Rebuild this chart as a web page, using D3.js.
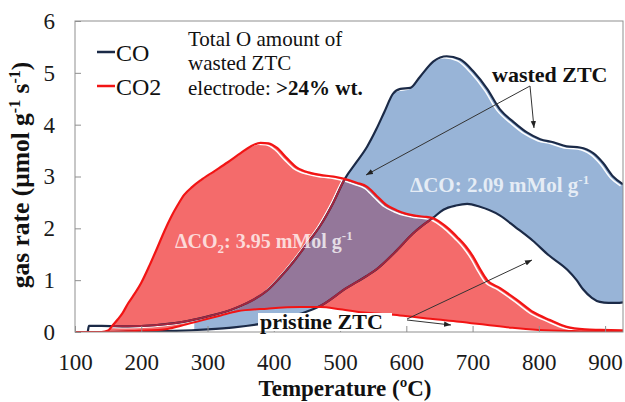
<!DOCTYPE html>
<html>
<head>
<meta charset="utf-8">
<script src="https://cdn.jsdelivr.net/npm/d3@7"></script>
<style>
  html, body { margin: 0; padding: 0; background: #fff; }
  svg { display: block; }
  text { font-family: "Liberation Serif", "Times New Roman", serif; }
</style>
</head>
<body>
<svg id="chart" width="625" height="402"></svg>
<script>
// Temperature-programmed desorption: CO and CO2 evolution rates (µmol g-1 s-1) vs temperature (°C)
// [temperature, rate] pairs for each trace

const wastedCO = [
  [100, 0], [119, 0], [121, 0.12], [140, 0.12], [180, 0.11], [220, 0.13], [250, 0.17],
  [280, 0.24], [310, 0.33], [340, 0.45], [360, 0.56], [390, 0.8], [410, 1.06], [430, 1.36],
  [450, 1.7], [470, 2.05], [490, 2.5], [507, 2.95], [525, 3.28], [541, 3.58], [555, 3.92],
  [567, 4.25], [580, 4.6], [591, 4.69], [606, 4.71], [621, 4.93], [641, 5.22], [661, 5.32],
  [681, 5.26], [701, 5.03], [722, 4.69], [741, 4.3], [762, 4.05], [782, 3.85], [802, 3.72],
  [822, 3.66], [842, 3.58], [862, 3.56], [882, 3.45], [897, 3.26], [912, 3.0], [927, 2.85]
];

const wastedCO2 = [
  [100, 0], [140, 0], [150, 0.03], [157, 0.13], [165, 0.25], [172, 0.37], [180, 0.55],
  [188, 0.7], [200, 0.95], [213, 1.3], [225, 1.65], [235, 1.95], [245, 2.22], [255, 2.45],
  [265, 2.65], [277, 2.8], [290, 2.93], [310, 3.1], [330, 3.27], [350, 3.45], [365, 3.58],
  [380, 3.65], [392, 3.64], [405, 3.55], [420, 3.35], [435, 3.17], [455, 3.07], [470, 3.03],
  [490, 3.0], [505, 2.96], [525, 2.88], [541, 2.8], [555, 2.63], [570, 2.45], [585, 2.35],
  [600, 2.28], [615, 2.24], [630, 2.22], [640, 2.2], [651, 2.12], [665, 1.98], [677, 1.83],
  [690, 1.65], [701, 1.45], [712, 1.2], [722, 1.0], [741, 0.85], [767, 0.62], [792, 0.38],
  [817, 0.23], [842, 0.1], [870, 0.05], [892, 0.04], [927, 0.03]
];

const pristineCO = [
  [100, 0], [150, 0], [200, 0.01], [250, 0.02], [300, 0.05], [340, 0.09], [390, 0.18],
  [440, 0.35], [470, 0.5], [510, 0.85], [540, 1.08], [556, 1.22], [586, 1.58], [610, 1.9],
  [625, 2.06], [640, 2.2], [656, 2.36], [675, 2.44], [692, 2.47], [710, 2.42], [741, 2.25],
  [765, 2.02], [791, 1.76], [815, 1.48], [843, 1.2], [857, 1.0], [867, 0.82], [880, 0.66],
  [892, 0.58], [905, 0.56], [918, 0.56], [927, 0.57]
];

const pristineCO2 = [
  [100, 0], [160, 0], [190, 0.02], [240, 0.06], [260, 0.12], [290, 0.22], [320, 0.32],
  [345, 0.4], [390, 0.45], [440, 0.48], [470, 0.48], [500, 0.44], [540, 0.37], [590, 0.32],
  [640, 0.25], [680, 0.2], [720, 0.14], [760, 0.08], [800, 0.04], [850, 0.02], [927, 0.01]
];

const xTicks = [100, 200, 300, 400, 500, 600, 700, 800, 900];
const yTicks = [0, 1, 2, 3, 4, 5, 6];
const legendItems = ["CO", "CO2"];
const coBandStart = 270;   // ΔCO shading begins here (°C)

const navy = "#1b2a47";
const red = "#f21414";
const redFill = "#f46b6b";
const blueFill = "rgb(80,128,187)";

const svg = d3.select("#chart");
const defs = svg.append("defs");

const x = d3.scaleLinear().domain([100, 927]).range([75, 623]);
const y = d3.scaleLinear().domain([0, 6]).range([332, 21]);
const plot = { left: x.range()[0], right: x.range()[1], top: y.range()[1], bottom: y.range()[0] };

const curve = d3.curveMonotoneX;
const line = d3.line().x(d => x(d[0])).y(d => y(d[1])).curve(curve);
const under = d3.area().x(d => x(d[0])).y0(y(0)).y1(d => y(d[1])).curve(curve);

// clip to the plot frame
defs.append("clipPath").attr("id", "plotClip")
  .append("rect")
  .attr("x", plot.left).attr("y", plot.top)
  .attr("width", plot.right - plot.left).attr("height", plot.bottom - plot.top);

// band between an upper and a lower trace
function bandMask(id, upper, lower) {
  const m = defs.append("mask").attr("id", id)
    .attr("maskUnits", "userSpaceOnUse")
    .attr("x", 0).attr("y", 0).attr("width", 625).attr("height", 402);
  m.append("path").attr("d", under(upper)).attr("fill", "#fff");
  m.append("path").attr("d", under(lower)).attr("fill", "#000");
}
bandMask("bandCO2", wastedCO2, pristineCO2);
bandMask("bandCO", wastedCO.filter(d => d[0] >= coBandStart), pristineCO);

const g = svg.append("g").attr("clip-path", "url(#plotClip)");

// ΔCO2 shading
g.append("rect")
  .attr("x", plot.left).attr("y", plot.top)
  .attr("width", plot.right - plot.left).attr("height", plot.bottom - plot.top)
  .attr("fill", redFill).attr("mask", "url(#bandCO2)");

// ΔCO shading (translucent, so the overlap reads purple)
g.append("rect")
  .attr("x", plot.left).attr("y", plot.top)
  .attr("width", plot.right - plot.left).attr("height", plot.bottom - plot.top)
  .attr("fill", blueFill).attr("fill-opacity", 0.59).attr("mask", "url(#bandCO)");

// frame
svg.append("rect")
  .attr("x", plot.left).attr("y", plot.top)
  .attr("width", plot.right - plot.left).attr("height", plot.bottom - plot.top)
  .attr("fill", "none").attr("stroke", "#8f8f8f").attr("stroke-width", 1);

// axes with inward ticks
const yAxis = d3.axisLeft(y).tickValues(yTicks).tickFormat(d3.format("d"))
  .tickSizeInner(-6).tickSizeOuter(0).tickPadding(20);
const xAxis = d3.axisBottom(x).tickValues(xTicks).tickFormat(d3.format("d"))
  .tickSizeInner(-6).tickSizeOuter(0).tickPadding(22);

function styleAxis(sel) {
  sel.select(".domain").remove();
  sel.selectAll(".tick line").attr("stroke", "#8f8f8f");
  sel.selectAll(".tick text")
    .attr("fill", "#1a1a1a")
    .style("font-size", "23px")
    .style("font-family", "'Liberation Serif', 'Times New Roman', serif");
}
svg.append("g").attr("transform", `translate(${plot.left},0)`).call(yAxis).call(styleAxis);
svg.append("g").attr("transform", `translate(0,${plot.bottom})`).call(xAxis).call(styleAxis);

// light edge just inside the shaded bands
[wastedCO2, wastedCO].forEach(s => {
  g.append("path").attr("d", line(s))
    .attr("transform", "translate(-2.5,1.5)")
    .attr("fill", "none").attr("stroke", "#fff").attr("stroke-width", 1.5);
});

// traces
function trace(data, color, width) {
  return g.append("path").attr("d", line(data))
    .attr("fill", "none").attr("stroke", color)
    .attr("stroke-width", width).attr("stroke-linejoin", "round");
}
trace(pristineCO, navy, 2.2);
trace(wastedCO, navy, 2.2);

// CO traces seen through the ΔCO2 shading
const tinted = g.append("g").attr("mask", "url(#bandCO2)");
[pristineCO, wastedCO].forEach(s => {
  tinted.append("path").attr("d", line(s))
    .attr("fill", "none").attr("stroke", "#a3263f").attr("stroke-width", 2);
});

trace(pristineCO2, red, 2);
trace(wastedCO2, red, 2.2);

// band annotations
const dCO2 = svg.append("text").attr("x", 175).attr("y", 248)
  .attr("fill", "#fff").attr("fill-opacity", 0.75)
  .style("font-size", "20px").style("font-weight", "bold");
dCO2.append("tspan").text("ΔCO");
dCO2.append("tspan").attr("dy", 5).style("font-size", "13px").text("2");
dCO2.append("tspan").attr("dy", -5).text(": 3.95 mMol g");
dCO2.append("tspan").attr("dy", -8).style("font-size", "13px").text("-1");

const dCO = svg.append("text").attr("x", 410).attr("y", 192)
  .attr("fill", "#fff").attr("fill-opacity", 0.75)
  .style("font-size", "21px").style("font-weight", "bold");
dCO.append("tspan").text("ΔCO: 2.09 mMol g");
dCO.append("tspan").attr("dy", -8).style("font-size", "13px").text("-1");

// arrow marker
defs.append("marker").attr("id", "arrow")
  .attr("viewBox", "0 0 8 6").attr("refX", 8).attr("refY", 3)
  .attr("markerWidth", 7).attr("markerHeight", 6)
  .attr("markerUnits", "userSpaceOnUse").attr("orient", "auto")
  .append("path").attr("d", "M0,0L8,3L0,6Z").attr("fill", "#222");

function arrow(x1, y1, x2, y2) {
  svg.append("line")
    .attr("x1", x1).attr("y1", y1).attr("x2", x2).attr("y2", y2)
    .attr("stroke", "#333").attr("stroke-width", 1)
    .attr("marker-end", "url(#arrow)");
}

// "wasted ZTC" callout
svg.append("text").attr("x", 492).attr("y", 82)
  .style("font-size", "22px").style("font-weight", "bold").attr("fill", "#111")
  .text("wasted ZTC");
arrow(530, 86, 366, 175);
arrow(530, 86, 534, 128);

// "pristine ZTC" callout
svg.append("rect").attr("x", 258).attr("y", 313).attr("width", 134).attr("height", 18)
  .attr("fill", "#fff");
svg.append("text").attr("x", 260).attr("y", 329)
  .style("font-size", "22px").style("font-weight", "bold").attr("fill", "#111")
  .text("pristine ZTC");
arrow(407, 319, 532, 260);
arrow(407, 320, 451, 325);

// note on oxygen content
const note = svg.append("g").style("font-size", "21px").attr("fill", "#111");
note.append("text").attr("x", 188).attr("y", 46).text("Total O amount of");
note.append("text").attr("x", 188).attr("y", 70).text("wasted ZTC");
const n3 = note.append("text").attr("x", 188).attr("y", 95);
n3.append("tspan").text("electrode: ");
n3.append("tspan").style("font-weight", "bold").text(">24% wt.");

// legend
const legendColors = [navy, red];
const legend = svg.append("g");
legendItems.forEach((name, i) => {
  const ly = 52 + i * 34;
  legend.append("line")
    .attr("x1", 97).attr("x2", 115).attr("y1", ly).attr("y2", ly)
    .attr("stroke", legendColors[i]).attr("stroke-width", 2.5);
  legend.append("text").attr("x", 116).attr("y", ly + 9)
    .style("font-size", "24px").attr("fill", "#111").text(name);
});

// axis titles
svg.append("text")
  .attr("x", 345).attr("y", 396)
  .attr("text-anchor", "middle")
  .style("font-size", "23px").style("font-weight", "bold").attr("fill", "#111")
  .text("Temperature (ºC)");

const yTitle = svg.append("text")
  .attr("transform", "translate(29,175) rotate(-90)")
  .attr("text-anchor", "middle")
  .style("font-size", "25.5px").style("font-weight", "bold").attr("fill", "#111");
yTitle.append("tspan").text("gas rate (μmol g");
yTitle.append("tspan").attr("dy", -9).style("font-size", "16px").text("-1");
yTitle.append("tspan").attr("dy", 9).text(" s");
yTitle.append("tspan").attr("dy", -9).style("font-size", "16px").text("-1");
yTitle.append("tspan").attr("dy", 9).text(")");
</script>
</body>
</html>
